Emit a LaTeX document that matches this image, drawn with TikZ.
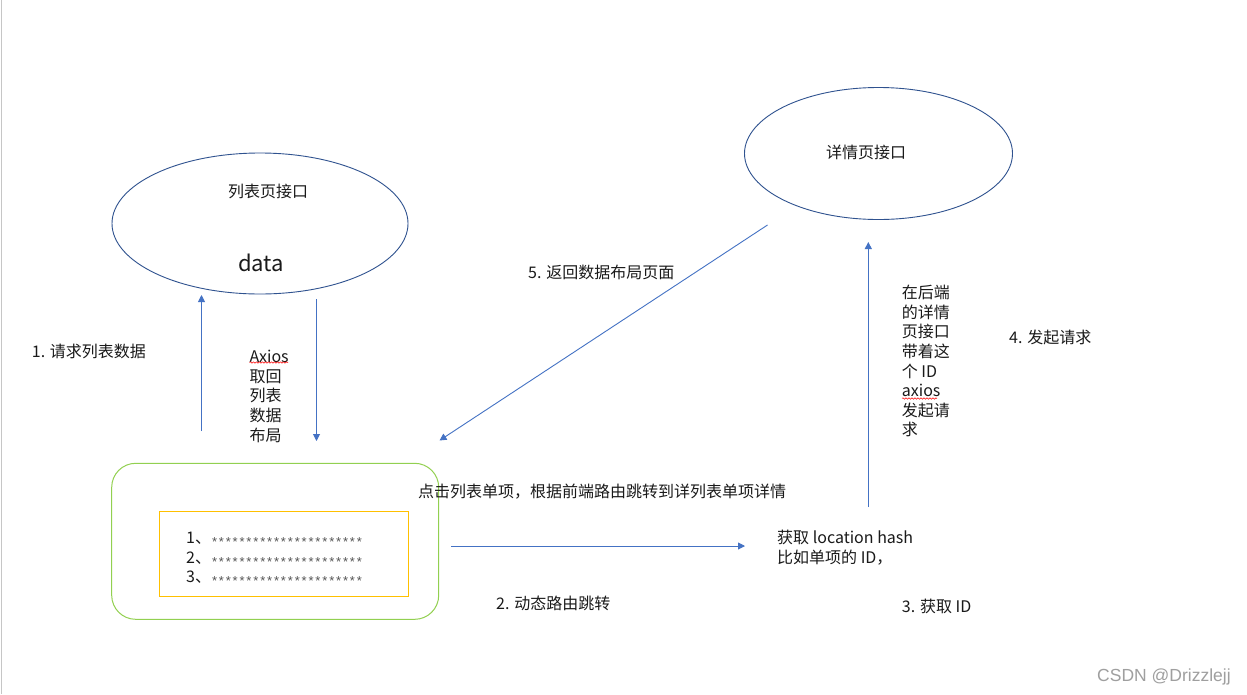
\documentclass[tikz,border=0pt]{standalone}
\usepackage{fontspec}
\setmainfont{Noto Sans CJK SC}
\newfontfamily\wmfont{Liberation Sans}
\usetikzlibrary{arrows.meta,shapes.geometric,decorations.pathmorphing}
\definecolor{ellblue}{HTML}{2F528F}
\definecolor{arrblue}{HTML}{4472C4}
\definecolor{boxgreen}{HTML}{92D050}
\definecolor{boxyellow}{HTML}{FFC000}
\definecolor{txt}{HTML}{1A1A1A}
\definecolor{stargray}{HTML}{555555}
\newcommand\sstar{\makebox[6.9pt]{\wmfont\fontsize{13}{13}\selectfont\raisebox{-3pt}{*}}}
\newcommand\starrow{\textcolor{stargray}{\sstar\sstar\sstar\sstar\sstar\sstar\sstar\sstar\sstar\sstar\sstar\sstar\sstar\sstar\sstar\sstar\sstar\sstar\sstar\sstar\sstar\sstar}}
\newcommand\firststrut{\rule{0pt}{15pt}}
\begin{document}
\begin{tikzpicture}[x=1pt,y=-1pt,
  lbl/.style={inner sep=0pt, anchor=base west, font=\fontsize{16}{19.6}\selectfont, text=txt},
  mlbl/.style={inner sep=0pt, anchor=north west, align=left, font=\fontsize{16}{19.6}\selectfont, text=txt},
  ellipsebox/.style={ellipse, draw=ellblue, line width=0.9pt, inner sep=0pt},
  flow/.style={draw=arrblue, line width=0.9pt, -{Triangle[length=7pt,width=7pt]}},
  spell/.style={draw=red, line width=0.5pt, decorate, decoration={snake, amplitude=0.7pt, segment length=3pt}}
]
\useasboundingbox (0,0) rectangle (1247,694);
\fill[white] (0,0) rectangle (1247,694);
\draw[color=gray!45, line width=1.5pt] (1.5,0) -- (1.5,694);

% ellipses
\node[ellipsebox, minimum width=296pt, minimum height=141pt] (listapi) at (260,223.5) {};
\node[lbl] (listapilbl) at (228,197.5) {列表页接口};
\node[lbl, font=\fontsize{22}{22}\selectfont] (datalbl) at (238,271) {data};

\node[ellipsebox, minimum width=268pt, minimum height=132pt] (detailapi) at (878.5,153.5) {};
\node[lbl] (detailapilbl) at (826,158.5) {详情页接口};

% boxes
\node[draw=boxgreen, line width=1pt, rounded corners=24pt, minimum width=327pt, minimum height=156pt, inner sep=0pt] (listpage) at (275.2,541.3) {};
\node[draw=boxyellow, line width=1pt, minimum width=249.4pt, minimum height=84.6pt, inner sep=0pt] (listbox) at (284,554) {};
\node[mlbl, font=\fontsize{16}{19.4}\selectfont] (items) at (186,528.5) {\firststrut 1、\starrow\\2、\starrow\\3、\starrow};

% arrow end points
\coordinate (a1s) at (201.5,431);
\coordinate (a1e) at (201.5,295);
\coordinate (a2s) at (316.5,299);
\coordinate (a2e) at (316.5,441);
\coordinate (a3s) at (451,546);
\coordinate (a3e) at (745,546);
\coordinate (a4s) at (868.3,507);
\coordinate (a4e) at (868.3,242);
\coordinate (a5s) at (767.5,225);
\coordinate (a5e) at (439.5,440.5);

\draw[flow] (a1s) -- (a1e);
\draw[flow] (a2s) -- (a2e);
\draw[flow] (a3s) -- (a3e);
\draw[flow] (a4s) -- (a4e);
\draw[flow] (a5s) -- (a5e);

% labels
\node[lbl] (l1) at (31.7,357.5) {1. 请求列表数据};
\node[mlbl] (axioslbl) at (249.3,347.5) {\firststrut Axios\\取回\\列表\\数据\\布局};
\draw[spell] (249.5,362.5) -- (288,362.5);
\node[lbl] (clicklbl) at (418,497) {点击列表单项，根据前端路由跳转到详列表单项详情};
\node[lbl] (l2) at (496,609.5) {2. 动态路由跳转};
\node[mlbl] (hashlbl) at (777,528.5) {\firststrut 获取 location hash\\比如单项的 ID，};
\node[lbl] (l3) at (901.7,612.5) {3. 获取 ID};
\node[mlbl] (backlbl) at (901.7,283.5) {\firststrut 在后端\\的详情\\页接口\\带着这\\个 ID\\axios\\发起请\\求};
\draw[spell] (902,398.5) -- (937,398.5);
\node[lbl] (l4) at (1009,343.5) {4. 发起请求};
\node[lbl] (l5) at (528,278.5) {5. 返回数据布局页面};

% watermark
\node[inner sep=0pt, anchor=base west, font=\wmfont\fontsize{17.5}{17.5}\selectfont, text=gray!75] (wm) at (1097,681) {CSDN @Drizzlejj};
\end{tikzpicture}
\end{document}
